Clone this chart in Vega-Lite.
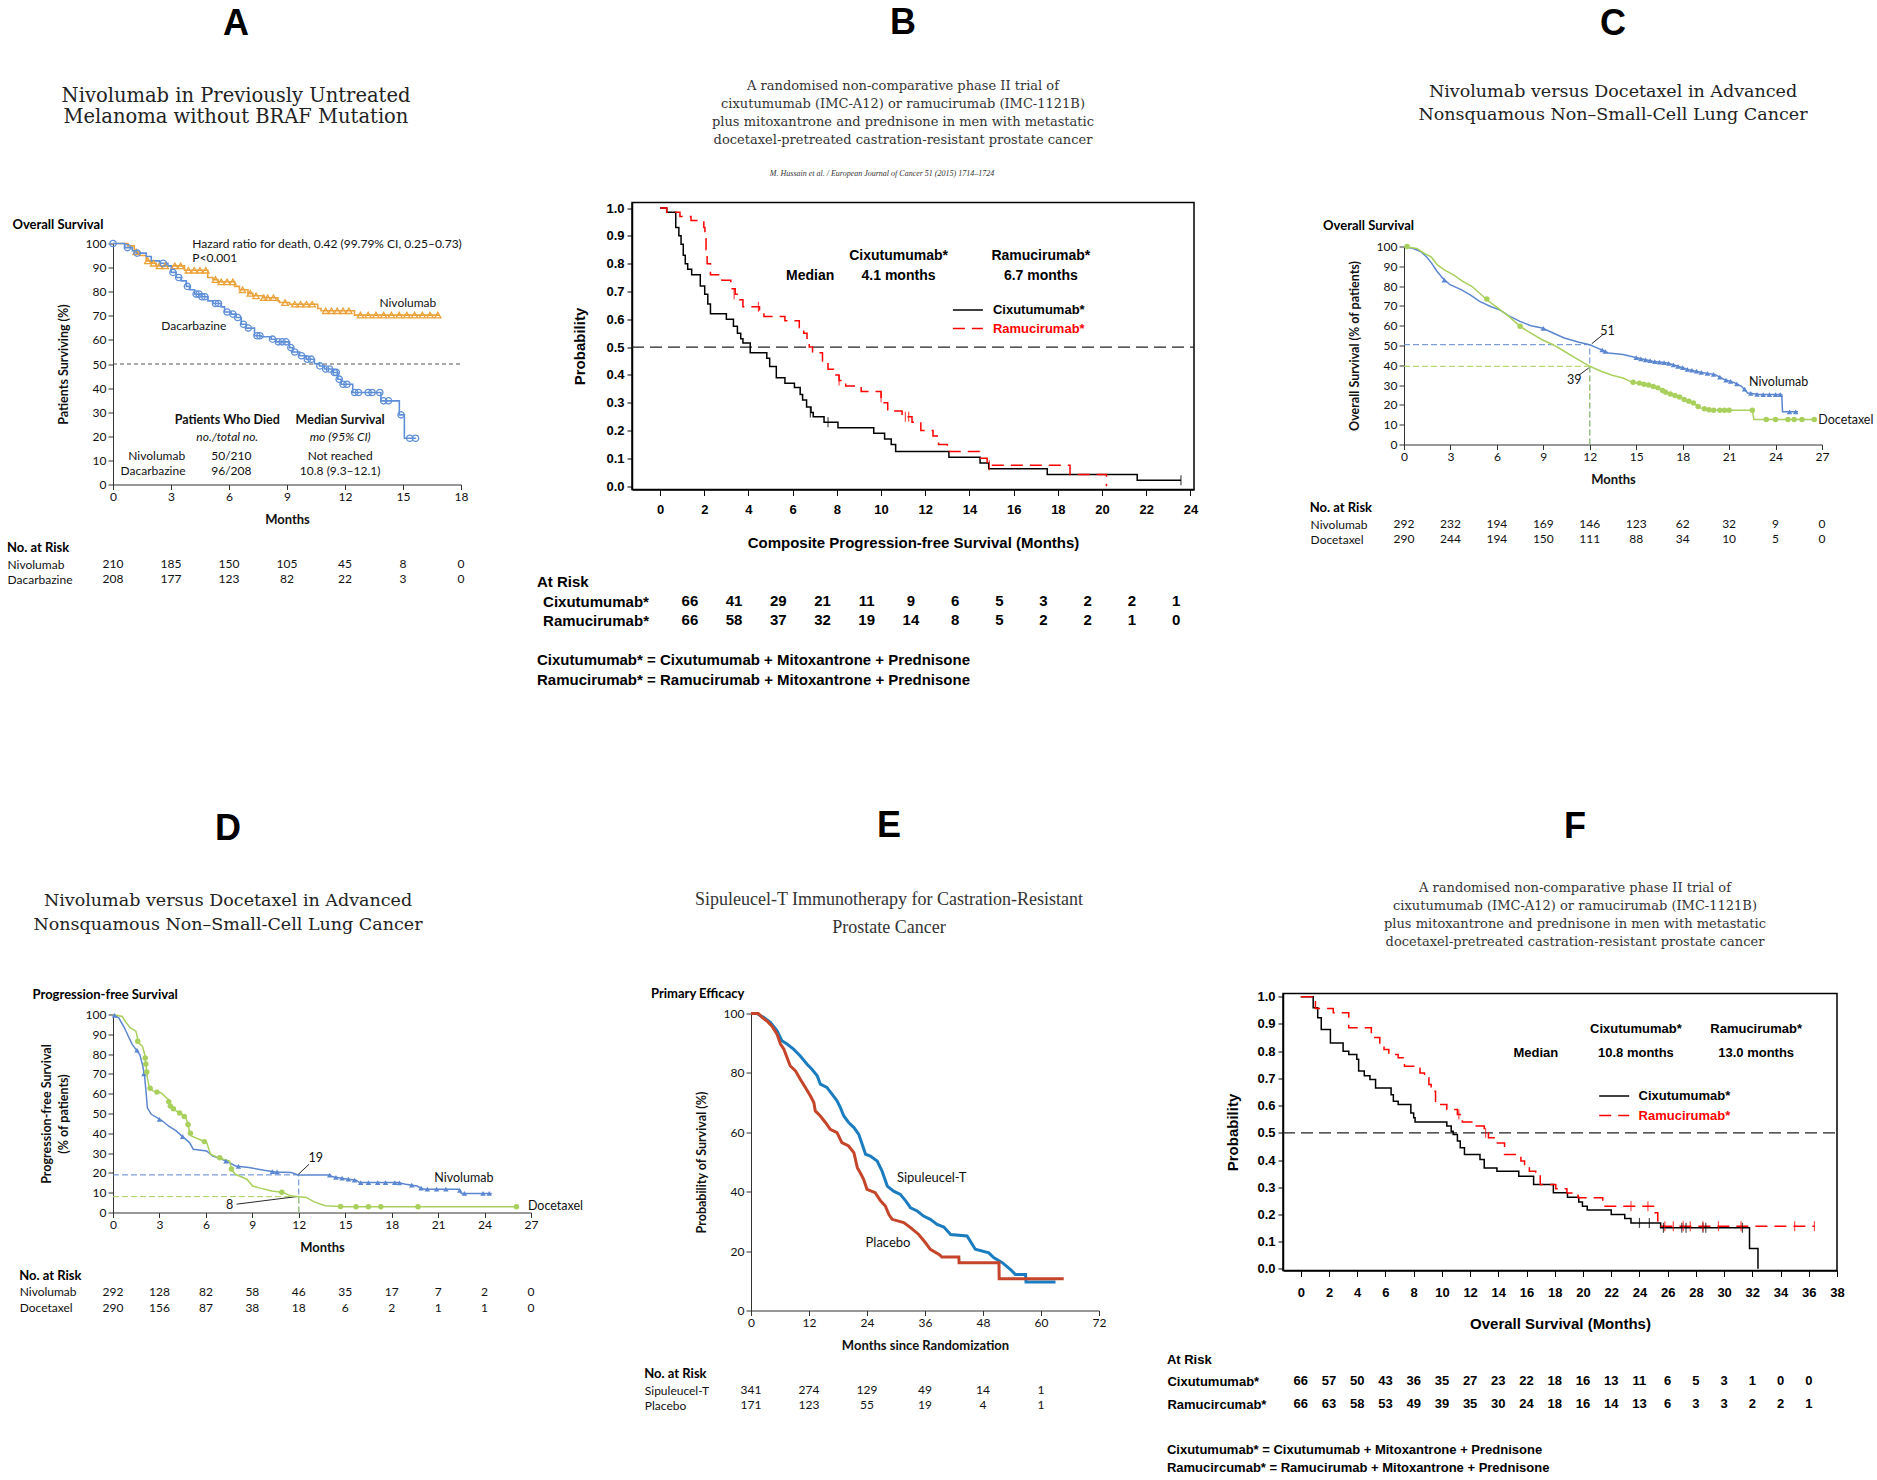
{
"$schema": "https://vega.github.io/schema/vega-lite/v6.json",
"background": "white",
"padding": {"left": 7, "top": 4.5, "right": 5, "bottom": 5},
"config": {
  "view": {"stroke": null},
  "font": "Lato",
  "axis": {"domainColor": "#333", "tickColor": "#333", "labelColor": "#111", "labelFont": "Lato", "labelFontSize": 12, "tickSize": 5, "labelPadding": 2, "titleFont": "Lato", "titleFontSize": 12.5, "titleFontWeight": "bold", "titleColor": "#111", "grid": false, "labelFlush": false, "labelOverlap": false},
  "title": {"color": "#000", "subtitleColor": "#222", "fontWeight": "bold"}
},
"datasets": {
  "kmA": [
    {"arm":"Nivolumab","month":0,"pct":100},{"arm":"Nivolumab","month":0.77,"pct":99},{"arm":"Nivolumab","month":1.1,"pct":96.5},{"arm":"Nivolumab","month":1.4,"pct":95},{"arm":"Nivolumab","month":1.72,"pct":92.8},{"arm":"Nivolumab","month":2.0,"pct":91.8},{"arm":"Nivolumab","month":2.24,"pct":90.7},{"arm":"Nivolumab","month":3.7,"pct":88.9},{"arm":"Nivolumab","month":4.9,"pct":85.9},{"arm":"Nivolumab","month":5.17,"pct":85},{"arm":"Nivolumab","month":5.43,"pct":84.1},{"arm":"Nivolumab","month":6.29,"pct":82.2},{"arm":"Nivolumab","month":6.54,"pct":80.8},{"arm":"Nivolumab","month":6.98,"pct":79.3},{"arm":"Nivolumab","month":7.23,"pct":78.3},{"arm":"Nivolumab","month":7.75,"pct":77.5},{"arm":"Nivolumab","month":8.53,"pct":76.2},{"arm":"Nivolumab","month":8.61,"pct":75.5},{"arm":"Nivolumab","month":9.13,"pct":74.8},{"arm":"Nivolumab","month":10.59,"pct":73},{"arm":"Nivolumab","month":10.76,"pct":72.1},{"arm":"Nivolumab","month":12.49,"pct":70.3},{"arm":"Nivolumab","month":16.88,"pct":70.3},
    {"arm":"Dacarbazine","month":0,"pct":100},{"arm":"Dacarbazine","month":0.6,"pct":98.3},{"arm":"Dacarbazine","month":1.0,"pct":97},{"arm":"Dacarbazine","month":1.2,"pct":96},{"arm":"Dacarbazine","month":1.72,"pct":94.6},{"arm":"Dacarbazine","month":1.98,"pct":92.8},{"arm":"Dacarbazine","month":2.41,"pct":91.8},{"arm":"Dacarbazine","month":2.84,"pct":90.7},{"arm":"Dacarbazine","month":3.01,"pct":88},{"arm":"Dacarbazine","month":3.27,"pct":85.9},{"arm":"Dacarbazine","month":3.53,"pct":84.5},{"arm":"Dacarbazine","month":3.79,"pct":82.2},{"arm":"Dacarbazine","month":3.96,"pct":80.8},{"arm":"Dacarbazine","month":4.22,"pct":79},{"arm":"Dacarbazine","month":4.56,"pct":77.9},{"arm":"Dacarbazine","month":4.91,"pct":76.2},{"arm":"Dacarbazine","month":5.17,"pct":75.1},{"arm":"Dacarbazine","month":5.6,"pct":73.7},{"arm":"Dacarbazine","month":5.77,"pct":71.6},{"arm":"Dacarbazine","month":6.11,"pct":70.7},{"arm":"Dacarbazine","month":6.37,"pct":69.3},{"arm":"Dacarbazine","month":6.63,"pct":66.5},{"arm":"Dacarbazine","month":6.89,"pct":64.9},{"arm":"Dacarbazine","month":7.32,"pct":61.7},{"arm":"Dacarbazine","month":7.66,"pct":61.3},{"arm":"Dacarbazine","month":8.18,"pct":60.3},{"arm":"Dacarbazine","month":8.44,"pct":59.2},{"arm":"Dacarbazine","month":9.13,"pct":56.8},{"arm":"Dacarbazine","month":9.3,"pct":55},{"arm":"Dacarbazine","month":9.65,"pct":53.4},{"arm":"Dacarbazine","month":9.99,"pct":52},{"arm":"Dacarbazine","month":10.42,"pct":50.1},{"arm":"Dacarbazine","month":10.68,"pct":49.2},{"arm":"Dacarbazine","month":10.94,"pct":47.9},{"arm":"Dacarbazine","month":11.37,"pct":46.5},{"arm":"Dacarbazine","month":11.63,"pct":43.7},{"arm":"Dacarbazine","month":11.8,"pct":41.6},{"arm":"Dacarbazine","month":12.4,"pct":38.2},{"arm":"Dacarbazine","month":13.86,"pct":34.7},{"arm":"Dacarbazine","month":14.81,"pct":28.9},{"arm":"Dacarbazine","month":15.07,"pct":19.2},{"arm":"Dacarbazine","month":15.67,"pct":19.2}
  ],
  "censA": [
    {"arm":"Nivolumab","month":1.2,"pct":96.5},{"arm":"Nivolumab","month":1.8,"pct":92.8},{"arm":"Nivolumab","month":2.1,"pct":91.8},{"arm":"Nivolumab","month":2.4,"pct":90.7},{"arm":"Nivolumab","month":2.7,"pct":90.7},{"arm":"Nivolumab","month":3.2,"pct":90.7},{"arm":"Nivolumab","month":3.5,"pct":90.7},{"arm":"Nivolumab","month":3.9,"pct":88.9},{"arm":"Nivolumab","month":4.2,"pct":88.9},{"arm":"Nivolumab","month":4.5,"pct":88.9},{"arm":"Nivolumab","month":4.8,"pct":88.9},{"arm":"Nivolumab","month":5.3,"pct":85},{"arm":"Nivolumab","month":5.6,"pct":84.1},{"arm":"Nivolumab","month":5.9,"pct":84.1},{"arm":"Nivolumab","month":6.2,"pct":84.1},{"arm":"Nivolumab","month":6.7,"pct":80.8},{"arm":"Nivolumab","month":7.1,"pct":79.3},{"arm":"Nivolumab","month":7.4,"pct":78.3},{"arm":"Nivolumab","month":7.8,"pct":77.5},{"arm":"Nivolumab","month":8.0,"pct":77.5},{"arm":"Nivolumab","month":8.3,"pct":77.5},{"arm":"Nivolumab","month":8.9,"pct":75.5},{"arm":"Nivolumab","month":9.4,"pct":74.8},{"arm":"Nivolumab","month":9.7,"pct":74.8},{"arm":"Nivolumab","month":10.0,"pct":74.8},{"arm":"Nivolumab","month":10.3,"pct":74.8},{"arm":"Nivolumab","month":11.0,"pct":72.1},{"arm":"Nivolumab","month":11.3,"pct":72.1},{"arm":"Nivolumab","month":11.6,"pct":72.1},{"arm":"Nivolumab","month":11.9,"pct":72.1},{"arm":"Nivolumab","month":12.2,"pct":72.1},{"arm":"Nivolumab","month":12.8,"pct":70.3},{"arm":"Nivolumab","month":13.2,"pct":70.3},{"arm":"Nivolumab","month":13.6,"pct":70.3},{"arm":"Nivolumab","month":14.0,"pct":70.3},{"arm":"Nivolumab","month":14.4,"pct":70.3},{"arm":"Nivolumab","month":14.8,"pct":70.3},{"arm":"Nivolumab","month":15.2,"pct":70.3},{"arm":"Nivolumab","month":15.6,"pct":70.3},{"arm":"Nivolumab","month":16.0,"pct":70.3},{"arm":"Nivolumab","month":16.4,"pct":70.3},{"arm":"Nivolumab","month":16.8,"pct":70.3},
    {"arm":"Dacarbazine","month":0,"pct":100},{"arm":"Dacarbazine","month":0.75,"pct":98.3},{"arm":"Dacarbazine","month":1.25,"pct":96},{"arm":"Dacarbazine","month":2.6,"pct":91.8},{"arm":"Dacarbazine","month":3.1,"pct":88},{"arm":"Dacarbazine","month":3.4,"pct":85.9},{"arm":"Dacarbazine","month":3.85,"pct":82.2},{"arm":"Dacarbazine","month":4.3,"pct":79},{"arm":"Dacarbazine","month":4.45,"pct":79},{"arm":"Dacarbazine","month":4.6,"pct":77.9},{"arm":"Dacarbazine","month":4.75,"pct":77.9},{"arm":"Dacarbazine","month":5.3,"pct":75.1},{"arm":"Dacarbazine","month":5.45,"pct":75.1},{"arm":"Dacarbazine","month":5.9,"pct":71.6},{"arm":"Dacarbazine","month":6.2,"pct":70.7},{"arm":"Dacarbazine","month":6.45,"pct":69.3},{"arm":"Dacarbazine","month":6.75,"pct":66.5},{"arm":"Dacarbazine","month":7.0,"pct":64.9},{"arm":"Dacarbazine","month":7.45,"pct":61.7},{"arm":"Dacarbazine","month":7.6,"pct":61.7},{"arm":"Dacarbazine","month":8.25,"pct":60.3},{"arm":"Dacarbazine","month":8.55,"pct":59.2},{"arm":"Dacarbazine","month":8.75,"pct":59.2},{"arm":"Dacarbazine","month":8.95,"pct":59.2},{"arm":"Dacarbazine","month":9.2,"pct":56.8},{"arm":"Dacarbazine","month":9.4,"pct":55},{"arm":"Dacarbazine","month":9.75,"pct":53.4},{"arm":"Dacarbazine","month":10.05,"pct":52},{"arm":"Dacarbazine","month":10.25,"pct":52},{"arm":"Dacarbazine","month":10.7,"pct":49.2},{"arm":"Dacarbazine","month":11.0,"pct":47.9},{"arm":"Dacarbazine","month":11.2,"pct":47.9},{"arm":"Dacarbazine","month":11.45,"pct":46.5},{"arm":"Dacarbazine","month":11.55,"pct":46.5},{"arm":"Dacarbazine","month":11.7,"pct":43.7},{"arm":"Dacarbazine","month":11.9,"pct":41.6},{"arm":"Dacarbazine","month":12.1,"pct":41.6},{"arm":"Dacarbazine","month":12.5,"pct":38.2},{"arm":"Dacarbazine","month":12.7,"pct":38.2},{"arm":"Dacarbazine","month":13.2,"pct":38.2},{"arm":"Dacarbazine","month":13.4,"pct":38.2},{"arm":"Dacarbazine","month":13.8,"pct":38.2},{"arm":"Dacarbazine","month":14.0,"pct":34.7},{"arm":"Dacarbazine","month":14.25,"pct":34.7},{"arm":"Dacarbazine","month":14.9,"pct":28.9},{"arm":"Dacarbazine","month":15.35,"pct":19.2},{"arm":"Dacarbazine","month":15.65,"pct":19.2}
  ],
  "refA": [{"month":0,"month2":18,"pct":50,"pct2":50}],
  "annA": [
    {"month":4.1,"pct":100,"text":"Hazard ratio for death, 0.42 (99.79% CI, 0.25–0.73)","role":"left"},
    {"month":4.1,"pct":93.8,"text":"P<0.001","role":"left"},
    {"month":13.78,"pct":75.5,"text":"Nivolumab","role":"left"},
    {"month":2.5,"pct":65.8,"text":"Dacarbazine","role":"left"},
    {"month":5.91,"pct":26.7,"text":"Patients Who Died","role":"head"},
    {"month":11.75,"pct":26.7,"text":"Median Survival","role":"head"},
    {"month":5.91,"pct":19.9,"text":"no./total no.","role":"sub"},
    {"month":11.75,"pct":19.9,"text":"mo (95% CI)","role":"sub"},
    {"month":2.26,"pct":11.9,"text":"Nivolumab","role":"cell"},
    {"month":6.12,"pct":11.9,"text":"50/210","role":"cell"},
    {"month":11.75,"pct":11.9,"text":"Not reached","role":"cell"},
    {"month":2.07,"pct":5.4,"text":"Dacarbazine","role":"cell"},
    {"month":6.12,"pct":5.4,"text":"96/208","role":"cell"},
    {"month":11.75,"pct":5.4,"text":"10.8 (9.3–12.1)","role":"cell"}
  ],
  "riskA": [
    {"arm":"Nivolumab","month":0,"n":210},{"arm":"Nivolumab","month":3,"n":185},{"arm":"Nivolumab","month":6,"n":150},{"arm":"Nivolumab","month":9,"n":105},{"arm":"Nivolumab","month":12,"n":45},{"arm":"Nivolumab","month":15,"n":8},{"arm":"Nivolumab","month":18,"n":0},
    {"arm":"Dacarbazine","month":0,"n":208},{"arm":"Dacarbazine","month":3,"n":177},{"arm":"Dacarbazine","month":6,"n":123},{"arm":"Dacarbazine","month":9,"n":82},{"arm":"Dacarbazine","month":12,"n":22},{"arm":"Dacarbazine","month":15,"n":3},{"arm":"Dacarbazine","month":18,"n":0}
  ],
  "kmB": [
    {"arm":"Cixutumumab*","month":0,"prob":1},{"arm":"Cixutumumab*","month":0.3,"prob":0.985},{"arm":"Cixutumumab*","month":0.71,"prob":0.93},{"arm":"Cixutumumab*","month":0.85,"prob":0.9},{"arm":"Cixutumumab*","month":0.95,"prob":0.87},{"arm":"Cixutumumab*","month":1.05,"prob":0.83},{"arm":"Cixutumumab*","month":1.14,"prob":0.8},{"arm":"Cixutumumab*","month":1.25,"prob":0.78},{"arm":"Cixutumumab*","month":1.43,"prob":0.76},{"arm":"Cixutumumab*","month":1.82,"prob":0.72},{"arm":"Cixutumumab*","month":2.02,"prob":0.69},{"arm":"Cixutumumab*","month":2.16,"prob":0.655},{"arm":"Cixutumumab*","month":2.28,"prob":0.62},{"arm":"Cixutumumab*","month":3.0,"prob":0.6},{"arm":"Cixutumumab*","month":3.32,"prob":0.575},{"arm":"Cixutumumab*","month":3.5,"prob":0.55},{"arm":"Cixutumumab*","month":3.65,"prob":0.53},{"arm":"Cixutumumab*","month":3.75,"prob":0.515},{"arm":"Cixutumumab*","month":4.08,"prob":0.48},{"arm":"Cixutumumab*","month":4.83,"prob":0.46},{"arm":"Cixutumumab*","month":4.96,"prob":0.43},{"arm":"Cixutumumab*","month":5.26,"prob":0.39},{"arm":"Cixutumumab*","month":5.65,"prob":0.37},{"arm":"Cixutumumab*","month":6.08,"prob":0.355},{"arm":"Cixutumumab*","month":6.34,"prob":0.33},{"arm":"Cixutumumab*","month":6.45,"prob":0.31},{"arm":"Cixutumumab*","month":6.63,"prob":0.285},{"arm":"Cixutumumab*","month":6.83,"prob":0.265},{"arm":"Cixutumumab*","month":6.93,"prob":0.25},{"arm":"Cixutumumab*","month":7.42,"prob":0.23},{"arm":"Cixutumumab*","month":8.05,"prob":0.21},{"arm":"Cixutumumab*","month":9.67,"prob":0.19},{"arm":"Cixutumumab*","month":10.16,"prob":0.17},{"arm":"Cixutumumab*","month":10.46,"prob":0.15},{"arm":"Cixutumumab*","month":10.66,"prob":0.125},{"arm":"Cixutumumab*","month":13.07,"prob":0.104},{"arm":"Cixutumumab*","month":14.48,"prob":0.083},{"arm":"Cixutumumab*","month":14.87,"prob":0.063},{"arm":"Cixutumumab*","month":17.52,"prob":0.042},{"arm":"Cixutumumab*","month":21.59,"prob":0.021},{"arm":"Cixutumumab*","month":23.57,"prob":0.021},
    {"arm":"Ramucirumab*","month":0,"prob":1},{"arm":"Ramucirumab*","month":0.3,"prob":0.985},{"arm":"Ramucirumab*","month":0.9,"prob":0.97},{"arm":"Ramucirumab*","month":1.4,"prob":0.955},{"arm":"Ramucirumab*","month":1.98,"prob":0.93},{"arm":"Ramucirumab*","month":2.03,"prob":0.89},{"arm":"Ramucirumab*","month":2.08,"prob":0.85},{"arm":"Ramucirumab*","month":2.13,"prob":0.8},{"arm":"Ramucirumab*","month":2.28,"prob":0.76},{"arm":"Ramucirumab*","month":2.8,"prob":0.74},{"arm":"Ramucirumab*","month":3.2,"prob":0.71},{"arm":"Ramucirumab*","month":3.4,"prob":0.69},{"arm":"Ramucirumab*","month":3.6,"prob":0.67},{"arm":"Ramucirumab*","month":3.75,"prob":0.645},{"arm":"Ramucirumab*","month":4.5,"prob":0.63},{"arm":"Ramucirumab*","month":4.7,"prob":0.61},{"arm":"Ramucirumab*","month":5.65,"prob":0.595},{"arm":"Ramucirumab*","month":6.3,"prob":0.57},{"arm":"Ramucirumab*","month":6.5,"prob":0.55},{"arm":"Ramucirumab*","month":6.65,"prob":0.52},{"arm":"Ramucirumab*","month":6.75,"prob":0.5},{"arm":"Ramucirumab*","month":6.9,"prob":0.48},{"arm":"Ramucirumab*","month":7.35,"prob":0.45},{"arm":"Ramucirumab*","month":7.6,"prob":0.42},{"arm":"Ramucirumab*","month":7.85,"prob":0.4},{"arm":"Ramucirumab*","month":8.1,"prob":0.38},{"arm":"Ramucirumab*","month":8.4,"prob":0.36},{"arm":"Ramucirumab*","month":9.1,"prob":0.34},{"arm":"Ramucirumab*","month":10.0,"prob":0.3},{"arm":"Ramucirumab*","month":10.3,"prob":0.27},{"arm":"Ramucirumab*","month":10.95,"prob":0.25},{"arm":"Ramucirumab*","month":11.4,"prob":0.23},{"arm":"Ramucirumab*","month":11.8,"prob":0.2},{"arm":"Ramucirumab*","month":12.35,"prob":0.18},{"arm":"Ramucirumab*","month":12.6,"prob":0.15},{"arm":"Ramucirumab*","month":13.0,"prob":0.125},{"arm":"Ramucirumab*","month":14.45,"prob":0.1},{"arm":"Ramucirumab*","month":14.8,"prob":0.075},{"arm":"Ramucirumab*","month":18.55,"prob":0.042},{"arm":"Ramucirumab*","month":20.2,"prob":0}
  ],
  "censB": [
    {"arm":"Cixutumumab*","month":6.8,"prob":0.265},{"arm":"Cixutumumab*","month":7.6,"prob":0.23},{"arm":"Cixutumumab*","month":23.57,"prob":0.021},
    {"arm":"Ramucirumab*","month":3.35,"prob":0.69},{"arm":"Ramucirumab*","month":4.45,"prob":0.645},{"arm":"Ramucirumab*","month":8.1,"prob":0.38},{"arm":"Ramucirumab*","month":10.0,"prob":0.32},{"arm":"Ramucirumab*","month":11.1,"prob":0.25},{"arm":"Ramucirumab*","month":11.25,"prob":0.25},{"arm":"Ramucirumab*","month":14.9,"prob":0.075}
  ],
  "refB": [{"month":-1.27,"month2":24.16,"prob":0.5,"prob2":0.5}],
  "annB": [
    {"month":10.79,"prob":0.826,"text":"Cixutumumab*"},{"month":17.23,"prob":0.826,"text":"Ramucirumab*"},
    {"month":6.79,"prob":0.757,"text":"Median"},{"month":10.79,"prob":0.757,"text":"4.1 months"},{"month":17.23,"prob":0.757,"text":"6.7 months"}
  ],
  "riskB": [
    {"arm":"Cixutumumab*","month":0,"n":66},{"arm":"Cixutumumab*","month":2,"n":41},{"arm":"Cixutumumab*","month":4,"n":29},{"arm":"Cixutumumab*","month":6,"n":21},{"arm":"Cixutumumab*","month":8,"n":11},{"arm":"Cixutumumab*","month":10,"n":9},{"arm":"Cixutumumab*","month":12,"n":6},{"arm":"Cixutumumab*","month":14,"n":5},{"arm":"Cixutumumab*","month":16,"n":3},{"arm":"Cixutumumab*","month":18,"n":2},{"arm":"Cixutumumab*","month":20,"n":2},{"arm":"Cixutumumab*","month":22,"n":1},
    {"arm":"Ramucirumab*","month":0,"n":66},{"arm":"Ramucirumab*","month":2,"n":58},{"arm":"Ramucirumab*","month":4,"n":37},{"arm":"Ramucirumab*","month":6,"n":32},{"arm":"Ramucirumab*","month":8,"n":19},{"arm":"Ramucirumab*","month":10,"n":14},{"arm":"Ramucirumab*","month":12,"n":8},{"arm":"Ramucirumab*","month":14,"n":5},{"arm":"Ramucirumab*","month":16,"n":2},{"arm":"Ramucirumab*","month":18,"n":2},{"arm":"Ramucirumab*","month":20,"n":1},{"arm":"Ramucirumab*","month":22,"n":0}
  ],
  "kmC": [
    {"arm":"Nivolumab","month":0,"pct":100},{"arm":"Nivolumab","month":0.6,"pct":99},{"arm":"Nivolumab","month":1.07,"pct":97.5},{"arm":"Nivolumab","month":1.43,"pct":95},{"arm":"Nivolumab","month":1.78,"pct":91.6},{"arm":"Nivolumab","month":2.14,"pct":87.4},{"arm":"Nivolumab","month":2.5,"pct":84},{"arm":"Nivolumab","month":2.97,"pct":80.7},{"arm":"Nivolumab","month":3.69,"pct":78.2},{"arm":"Nivolumab","month":4.28,"pct":75.6},{"arm":"Nivolumab","month":4.88,"pct":72.3},{"arm":"Nivolumab","month":5.59,"pct":69.7},{"arm":"Nivolumab","month":6.18,"pct":68},{"arm":"Nivolumab","month":6.78,"pct":65},{"arm":"Nivolumab","month":7.49,"pct":62.2},{"arm":"Nivolumab","month":8.2,"pct":60},{"arm":"Nivolumab","month":8.92,"pct":58.8},{"arm":"Nivolumab","month":9.63,"pct":56.3},{"arm":"Nivolumab","month":10.35,"pct":53.8},{"arm":"Nivolumab","month":11.3,"pct":51.6},{"arm":"Nivolumab","month":12.0,"pct":50.4},{"arm":"Nivolumab","month":12.5,"pct":48.7},{"arm":"Nivolumab","month":13.2,"pct":46.2},{"arm":"Nivolumab","month":14.15,"pct":45.4},{"arm":"Nivolumab","month":15.1,"pct":43.7},{"arm":"Nivolumab","month":16.05,"pct":42},{"arm":"Nivolumab","month":17.0,"pct":41.2},{"arm":"Nivolumab","month":17.7,"pct":39.5},{"arm":"Nivolumab","month":18.4,"pct":37.8},{"arm":"Nivolumab","month":19.15,"pct":36.5},{"arm":"Nivolumab","month":20.1,"pct":35.3},{"arm":"Nivolumab","month":20.7,"pct":32.8},{"arm":"Nivolumab","month":21.3,"pct":31.4},{"arm":"Nivolumab","month":21.8,"pct":29.4},{"arm":"Nivolumab","month":22.2,"pct":26},{"arm":"Nivolumab","month":22.95,"pct":25.2},{"arm":"Nivolumab","month":24.4,"pct":25.2},{"arm":"Nivolumab","month":24.45,"pct":16.5},{"arm":"Nivolumab","month":25.45,"pct":16.5},
    {"arm":"Docetaxel","month":0,"pct":100},{"arm":"Docetaxel","month":0.83,"pct":99},{"arm":"Docetaxel","month":1.3,"pct":96.6},{"arm":"Docetaxel","month":1.78,"pct":94.6},{"arm":"Docetaxel","month":2.14,"pct":90.8},{"arm":"Docetaxel","month":2.6,"pct":88.2},{"arm":"Docetaxel","month":3.2,"pct":85.7},{"arm":"Docetaxel","month":3.8,"pct":82.4},{"arm":"Docetaxel","month":4.4,"pct":79.8},{"arm":"Docetaxel","month":5.0,"pct":75.6},{"arm":"Docetaxel","month":5.35,"pct":73.1},{"arm":"Docetaxel","month":6.07,"pct":68.9},{"arm":"Docetaxel","month":6.78,"pct":64.7},{"arm":"Docetaxel","month":7.49,"pct":59.7},{"arm":"Docetaxel","month":8.2,"pct":56.3},{"arm":"Docetaxel","month":8.92,"pct":52.9},{"arm":"Docetaxel","month":9.63,"pct":50.4},{"arm":"Docetaxel","month":10.35,"pct":47.1},{"arm":"Docetaxel","month":11.06,"pct":43.7},{"arm":"Docetaxel","month":12.0,"pct":39.5},{"arm":"Docetaxel","month":12.73,"pct":37},{"arm":"Docetaxel","month":13.44,"pct":35},{"arm":"Docetaxel","month":14.15,"pct":33.6},{"arm":"Docetaxel","month":14.75,"pct":31.4},{"arm":"Docetaxel","month":15.58,"pct":30.3},{"arm":"Docetaxel","month":16.4,"pct":28.6},{"arm":"Docetaxel","month":17.0,"pct":26},{"arm":"Docetaxel","month":17.7,"pct":24.4},{"arm":"Docetaxel","month":18.08,"pct":22.7},{"arm":"Docetaxel","month":18.67,"pct":21},{"arm":"Docetaxel","month":19.15,"pct":18.5},{"arm":"Docetaxel","month":19.86,"pct":17.3},{"arm":"Docetaxel","month":22.5,"pct":17.3},{"arm":"Docetaxel","month":22.6,"pct":12.6},{"arm":"Docetaxel","month":26.5,"pct":12.6}
  ],
  "censC": [
    {"arm":"Nivolumab","month":2.6,"pct":83},{"arm":"Nivolumab","month":9.0,"pct":58.6},{"arm":"Nivolumab","month":12.8,"pct":47.8},{"arm":"Nivolumab","month":13.0,"pct":47},{"arm":"Nivolumab","month":15.0,"pct":43.9},{"arm":"Nivolumab","month":15.3,"pct":43.3},{"arm":"Nivolumab","month":15.6,"pct":42.8},{"arm":"Nivolumab","month":15.9,"pct":42.3},{"arm":"Nivolumab","month":16.2,"pct":41.9},{"arm":"Nivolumab","month":16.5,"pct":41.6},{"arm":"Nivolumab","month":16.8,"pct":41.3},{"arm":"Nivolumab","month":17.1,"pct":41},{"arm":"Nivolumab","month":17.4,"pct":40.2},{"arm":"Nivolumab","month":17.7,"pct":39.5},{"arm":"Nivolumab","month":18.0,"pct":38.8},{"arm":"Nivolumab","month":18.3,"pct":38},{"arm":"Nivolumab","month":18.6,"pct":37.5},{"arm":"Nivolumab","month":18.9,"pct":37},{"arm":"Nivolumab","month":19.2,"pct":36.4},{"arm":"Nivolumab","month":19.6,"pct":35.9},{"arm":"Nivolumab","month":20.0,"pct":35.4},{"arm":"Nivolumab","month":20.4,"pct":34},{"arm":"Nivolumab","month":20.8,"pct":32.5},{"arm":"Nivolumab","month":21.1,"pct":31.9},{"arm":"Nivolumab","month":21.5,"pct":30.6},{"arm":"Nivolumab","month":22.0,"pct":28},{"arm":"Nivolumab","month":22.4,"pct":25.8},{"arm":"Nivolumab","month":22.8,"pct":25.3},{"arm":"Nivolumab","month":23.2,"pct":25.2},{"arm":"Nivolumab","month":23.6,"pct":25.2},{"arm":"Nivolumab","month":24.0,"pct":25.2},{"arm":"Nivolumab","month":24.3,"pct":25.2},{"arm":"Nivolumab","month":24.9,"pct":16.5},{"arm":"Nivolumab","month":25.3,"pct":16.5},
    {"arm":"Docetaxel","month":0.2,"pct":100},{"arm":"Docetaxel","month":5.35,"pct":73.5},{"arm":"Docetaxel","month":7.5,"pct":59.7},{"arm":"Docetaxel","month":14.8,"pct":31.4},{"arm":"Docetaxel","month":15.2,"pct":31},{"arm":"Docetaxel","month":15.5,"pct":30.4},{"arm":"Docetaxel","month":15.8,"pct":30},{"arm":"Docetaxel","month":16.1,"pct":29.3},{"arm":"Docetaxel","month":16.4,"pct":28.6},{"arm":"Docetaxel","month":16.7,"pct":27.3},{"arm":"Docetaxel","month":16.9,"pct":26.4},{"arm":"Docetaxel","month":17.2,"pct":25.5},{"arm":"Docetaxel","month":17.5,"pct":24.8},{"arm":"Docetaxel","month":17.8,"pct":24},{"arm":"Docetaxel","month":18.1,"pct":22.7},{"arm":"Docetaxel","month":18.4,"pct":21.8},{"arm":"Docetaxel","month":18.7,"pct":21},{"arm":"Docetaxel","month":19.0,"pct":19.2},{"arm":"Docetaxel","month":19.4,"pct":18},{"arm":"Docetaxel","month":19.7,"pct":17.5},{"arm":"Docetaxel","month":20.0,"pct":17.3},{"arm":"Docetaxel","month":20.4,"pct":17.3},{"arm":"Docetaxel","month":20.7,"pct":17.3},{"arm":"Docetaxel","month":21.0,"pct":17.3},{"arm":"Docetaxel","month":22.5,"pct":17.3},{"arm":"Docetaxel","month":23.4,"pct":12.6},{"arm":"Docetaxel","month":24.0,"pct":12.6},{"arm":"Docetaxel","month":24.8,"pct":12.6},{"arm":"Docetaxel","month":25.2,"pct":12.6},{"arm":"Docetaxel","month":25.7,"pct":12.6},{"arm":"Docetaxel","month":26.5,"pct":12.6}
  ],
  "refC": [
    {"arm":"Nivolumab","month":0,"month2":12,"pct":50.4,"pct2":50.4},{"arm":"Docetaxel","month":0,"month2":12,"pct":39.5,"pct2":39.5},
    {"arm":"Nivolumab","month":12,"month2":12,"pct":0,"pct2":50.4},{"arm":"Docetaxel","month":12,"month2":12,"pct":0,"pct2":39.5}
  ],
  "leadC": [{"month":12.13,"pct":50.9,"month2":12.85,"pct2":55.5},{"month":11.94,"pct":38.7,"month2":11.3,"pct2":35}],
  "annC": [
    {"month":13.15,"pct":57.5,"text":"51","role":"center"},{"month":11.0,"pct":32.8,"text":"39","role":"center"},
    {"month":22.29,"pct":31.6,"text":"Nivolumab","role":"left"},{"month":26.76,"pct":12.6,"text":"Docetaxel","role":"left"}
  ],
  "riskC": [
    {"arm":"Nivolumab","month":0,"n":292},{"arm":"Nivolumab","month":3,"n":232},{"arm":"Nivolumab","month":6,"n":194},{"arm":"Nivolumab","month":9,"n":169},{"arm":"Nivolumab","month":12,"n":146},{"arm":"Nivolumab","month":15,"n":123},{"arm":"Nivolumab","month":18,"n":62},{"arm":"Nivolumab","month":21,"n":32},{"arm":"Nivolumab","month":24,"n":9},{"arm":"Nivolumab","month":27,"n":0},
    {"arm":"Docetaxel","month":0,"n":290},{"arm":"Docetaxel","month":3,"n":244},{"arm":"Docetaxel","month":6,"n":194},{"arm":"Docetaxel","month":9,"n":150},{"arm":"Docetaxel","month":12,"n":111},{"arm":"Docetaxel","month":15,"n":88},{"arm":"Docetaxel","month":18,"n":34},{"arm":"Docetaxel","month":21,"n":10},{"arm":"Docetaxel","month":24,"n":5},{"arm":"Docetaxel","month":27,"n":0}
  ],
  "kmD": [
    {"arm":"Nivolumab","month":0,"pct":100},{"arm":"Nivolumab","month":0.37,"pct":98.3},{"arm":"Nivolumab","month":0.74,"pct":93.3},{"arm":"Nivolumab","month":0.99,"pct":89},{"arm":"Nivolumab","month":1.24,"pct":84.9},{"arm":"Nivolumab","month":1.48,"pct":82.4},{"arm":"Nivolumab","month":1.73,"pct":79.8},{"arm":"Nivolumab","month":1.9,"pct":74.8},{"arm":"Nivolumab","month":2.03,"pct":69.7},{"arm":"Nivolumab","month":2.15,"pct":59.7},{"arm":"Nivolumab","month":2.22,"pct":52.9},{"arm":"Nivolumab","month":2.47,"pct":49.6},{"arm":"Nivolumab","month":2.84,"pct":47.9},{"arm":"Nivolumab","month":3.2,"pct":46.2},{"arm":"Nivolumab","month":3.58,"pct":43.7},{"arm":"Nivolumab","month":4.08,"pct":41.2},{"arm":"Nivolumab","month":4.57,"pct":37.8},{"arm":"Nivolumab","month":4.94,"pct":35.3},{"arm":"Nivolumab","month":5.19,"pct":31.9},{"arm":"Nivolumab","month":6.05,"pct":31.1},{"arm":"Nivolumab","month":6.42,"pct":28.6},{"arm":"Nivolumab","month":7.04,"pct":26.9},{"arm":"Nivolumab","month":7.53,"pct":25.2},{"arm":"Nivolumab","month":7.9,"pct":23.5},{"arm":"Nivolumab","month":8.77,"pct":22.7},{"arm":"Nivolumab","month":9.76,"pct":21.3},{"arm":"Nivolumab","month":10.5,"pct":20.5},{"arm":"Nivolumab","month":11.5,"pct":20.2},{"arm":"Nivolumab","month":11.98,"pct":19},{"arm":"Nivolumab","month":13.96,"pct":19},{"arm":"Nivolumab","month":14.2,"pct":18},{"arm":"Nivolumab","month":14.95,"pct":17.1},{"arm":"Nivolumab","month":15.7,"pct":16.3},{"arm":"Nivolumab","month":15.93,"pct":15.1},{"arm":"Nivolumab","month":18.4,"pct":15.1},{"arm":"Nivolumab","month":18.9,"pct":14.3},{"arm":"Nivolumab","month":19.64,"pct":13.4},{"arm":"Nivolumab","month":19.9,"pct":12.3},{"arm":"Nivolumab","month":20.13,"pct":11.8},{"arm":"Nivolumab","month":22.36,"pct":11.8},{"arm":"Nivolumab","month":22.5,"pct":9.6},{"arm":"Nivolumab","month":24.46,"pct":9.6},
    {"arm":"Docetaxel","month":0,"pct":100},{"arm":"Docetaxel","month":0.6,"pct":99},{"arm":"Docetaxel","month":0.86,"pct":95.8},{"arm":"Docetaxel","month":1.1,"pct":93.3},{"arm":"Docetaxel","month":1.48,"pct":91.6},{"arm":"Docetaxel","month":1.65,"pct":85.7},{"arm":"Docetaxel","month":1.9,"pct":84},{"arm":"Docetaxel","month":2.05,"pct":79.8},{"arm":"Docetaxel","month":2.1,"pct":76.5},{"arm":"Docetaxel","month":2.15,"pct":73.1},{"arm":"Docetaxel","month":2.22,"pct":68},{"arm":"Docetaxel","month":2.35,"pct":63},{"arm":"Docetaxel","month":2.6,"pct":61.3},{"arm":"Docetaxel","month":3.09,"pct":60.5},{"arm":"Docetaxel","month":3.33,"pct":58.8},{"arm":"Docetaxel","month":3.58,"pct":57.1},{"arm":"Docetaxel","month":3.7,"pct":53.8},{"arm":"Docetaxel","month":4.08,"pct":51.3},{"arm":"Docetaxel","month":4.45,"pct":49.6},{"arm":"Docetaxel","month":4.69,"pct":47.9},{"arm":"Docetaxel","month":4.82,"pct":45.4},{"arm":"Docetaxel","month":4.94,"pct":41.2},{"arm":"Docetaxel","month":5.06,"pct":38.7},{"arm":"Docetaxel","month":5.56,"pct":37},{"arm":"Docetaxel","month":6.05,"pct":35.3},{"arm":"Docetaxel","month":6.3,"pct":29.4},{"arm":"Docetaxel","month":6.79,"pct":27.7},{"arm":"Docetaxel","month":7.53,"pct":26},{"arm":"Docetaxel","month":7.66,"pct":21.8},{"arm":"Docetaxel","month":7.9,"pct":19.3},{"arm":"Docetaxel","month":8.65,"pct":16.8},{"arm":"Docetaxel","month":9.02,"pct":13.4},{"arm":"Docetaxel","month":9.51,"pct":12.3},{"arm":"Docetaxel","month":10.25,"pct":10.9},{"arm":"Docetaxel","month":11.0,"pct":10.1},{"arm":"Docetaxel","month":11.49,"pct":8.4},{"arm":"Docetaxel","month":11.98,"pct":8},{"arm":"Docetaxel","month":12.48,"pct":7.6},{"arm":"Docetaxel","month":12.97,"pct":5.5},{"arm":"Docetaxel","month":13.7,"pct":3.4},{"arm":"Docetaxel","month":14.95,"pct":2.9},{"arm":"Docetaxel","month":26.06,"pct":2.9}
  ],
  "censD": [
    {"arm":"Nivolumab","month":0.1,"pct":99.5},{"arm":"Nivolumab","month":1.55,"pct":82},{"arm":"Nivolumab","month":2.0,"pct":70},{"arm":"Nivolumab","month":3.0,"pct":47},{"arm":"Nivolumab","month":4.5,"pct":38.3},{"arm":"Nivolumab","month":7.3,"pct":26},{"arm":"Nivolumab","month":8.1,"pct":23.3},{"arm":"Nivolumab","month":10.3,"pct":20.7},{"arm":"Nivolumab","month":10.6,"pct":20.5},{"arm":"Nivolumab","month":14.0,"pct":18.9},{"arm":"Nivolumab","month":14.4,"pct":17.8},{"arm":"Nivolumab","month":14.8,"pct":17.3},{"arm":"Nivolumab","month":15.2,"pct":16.8},{"arm":"Nivolumab","month":15.6,"pct":16.4},{"arm":"Nivolumab","month":16.0,"pct":15.1},{"arm":"Nivolumab","month":16.5,"pct":15.1},{"arm":"Nivolumab","month":17.1,"pct":15.1},{"arm":"Nivolumab","month":17.6,"pct":15.1},{"arm":"Nivolumab","month":18.2,"pct":15.1},{"arm":"Nivolumab","month":18.5,"pct":15},{"arm":"Nivolumab","month":19.3,"pct":13.8},{"arm":"Nivolumab","month":19.9,"pct":12.3},{"arm":"Nivolumab","month":20.3,"pct":11.8},{"arm":"Nivolumab","month":20.9,"pct":11.8},{"arm":"Nivolumab","month":21.5,"pct":11.8},{"arm":"Nivolumab","month":22.4,"pct":11.2},{"arm":"Nivolumab","month":22.7,"pct":9.6},{"arm":"Nivolumab","month":23.9,"pct":9.6},{"arm":"Nivolumab","month":24.3,"pct":9.6},
    {"arm":"Docetaxel","month":1.6,"pct":86.5},{"arm":"Docetaxel","month":2.08,"pct":78},{"arm":"Docetaxel","month":2.12,"pct":75},{"arm":"Docetaxel","month":2.18,"pct":71},{"arm":"Docetaxel","month":2.4,"pct":62.8},{"arm":"Docetaxel","month":2.84,"pct":60.8},{"arm":"Docetaxel","month":3.6,"pct":56},{"arm":"Docetaxel","month":3.7,"pct":53.8},{"arm":"Docetaxel","month":3.9,"pct":52.4},{"arm":"Docetaxel","month":4.3,"pct":50.3},{"arm":"Docetaxel","month":4.6,"pct":48.5},{"arm":"Docetaxel","month":4.85,"pct":44.5},{"arm":"Docetaxel","month":5.0,"pct":40},{"arm":"Docetaxel","month":5.9,"pct":35.8},{"arm":"Docetaxel","month":6.9,"pct":27.6},{"arm":"Docetaxel","month":7.65,"pct":22},{"arm":"Docetaxel","month":10.9,"pct":10.2},{"arm":"Docetaxel","month":14.7,"pct":3},{"arm":"Docetaxel","month":15.7,"pct":2.9},{"arm":"Docetaxel","month":16.5,"pct":2.9},{"arm":"Docetaxel","month":17.3,"pct":2.9},{"arm":"Docetaxel","month":19.7,"pct":2.9},{"arm":"Docetaxel","month":26.06,"pct":2.9}
  ],
  "refD": [
    {"arm":"Nivolumab","month":0,"month2":12,"pct":19,"pct2":19},{"arm":"Docetaxel","month":0,"month2":12,"pct":8,"pct2":8},
    {"arm":"Nivolumab","month":12,"month2":12,"pct":0,"pct2":19},{"arm":"Docetaxel","month":12,"month2":12,"pct":0,"pct2":8}
  ],
  "leadD": [{"month":11.93,"pct":19,"month2":12.67,"pct2":24.4},{"month":7.98,"pct":4.2,"month2":11.93,"pct2":8.1}],
  "annD": [
    {"month":13.1,"pct":27.7,"text":"19","role":"center"},{"month":7.53,"pct":3.7,"text":"8","role":"center"},
    {"month":20.75,"pct":17.6,"text":"Nivolumab","role":"left"},{"month":26.8,"pct":3.4,"text":"Docetaxel","role":"left"}
  ],
  "riskD": [
    {"arm":"Nivolumab","month":0,"n":292},{"arm":"Nivolumab","month":3,"n":128},{"arm":"Nivolumab","month":6,"n":82},{"arm":"Nivolumab","month":9,"n":58},{"arm":"Nivolumab","month":12,"n":46},{"arm":"Nivolumab","month":15,"n":35},{"arm":"Nivolumab","month":18,"n":17},{"arm":"Nivolumab","month":21,"n":7},{"arm":"Nivolumab","month":24,"n":2},{"arm":"Nivolumab","month":27,"n":0},
    {"arm":"Docetaxel","month":0,"n":290},{"arm":"Docetaxel","month":3,"n":156},{"arm":"Docetaxel","month":6,"n":87},{"arm":"Docetaxel","month":9,"n":38},{"arm":"Docetaxel","month":12,"n":18},{"arm":"Docetaxel","month":15,"n":6},{"arm":"Docetaxel","month":18,"n":2},{"arm":"Docetaxel","month":21,"n":1},{"arm":"Docetaxel","month":24,"n":1},{"arm":"Docetaxel","month":27,"n":0}
  ],
  "kmE": [
    {"arm":"Sipuleucel-T","month":0,"pct":100},{"arm":"Sipuleucel-T","month":1.2,"pct":100},{"arm":"Sipuleucel-T","month":2.6,"pct":98.7},{"arm":"Sipuleucel-T","month":4.0,"pct":97},{"arm":"Sipuleucel-T","month":5.4,"pct":94.2},{"arm":"Sipuleucel-T","month":6.4,"pct":90.8},{"arm":"Sipuleucel-T","month":7.45,"pct":89.7},{"arm":"Sipuleucel-T","month":8.8,"pct":88},{"arm":"Sipuleucel-T","month":10.2,"pct":85.7},{"arm":"Sipuleucel-T","month":11.6,"pct":82.9},{"arm":"Sipuleucel-T","month":12.6,"pct":81.2},{"arm":"Sipuleucel-T","month":13.7,"pct":79},{"arm":"Sipuleucel-T","month":14.35,"pct":76.2},{"arm":"Sipuleucel-T","month":15.7,"pct":75.1},{"arm":"Sipuleucel-T","month":16.8,"pct":72.8},{"arm":"Sipuleucel-T","month":17.8,"pct":70.6},{"arm":"Sipuleucel-T","month":18.5,"pct":68.3},{"arm":"Sipuleucel-T","month":19.2,"pct":65.5},{"arm":"Sipuleucel-T","month":20.2,"pct":63.3},{"arm":"Sipuleucel-T","month":21.3,"pct":61.6},{"arm":"Sipuleucel-T","month":22.3,"pct":59.3},{"arm":"Sipuleucel-T","month":23.0,"pct":56},{"arm":"Sipuleucel-T","month":23.7,"pct":52.6},{"arm":"Sipuleucel-T","month":24.7,"pct":52},{"arm":"Sipuleucel-T","month":26.1,"pct":50.3},{"arm":"Sipuleucel-T","month":27.1,"pct":47},{"arm":"Sipuleucel-T","month":28.2,"pct":41.9},{"arm":"Sipuleucel-T","month":29.5,"pct":40.2},{"arm":"Sipuleucel-T","month":30.9,"pct":39.1},{"arm":"Sipuleucel-T","month":32.0,"pct":36.9},{"arm":"Sipuleucel-T","month":33.0,"pct":34.6},{"arm":"Sipuleucel-T","month":34.4,"pct":33.5},{"arm":"Sipuleucel-T","month":35.7,"pct":31.8},{"arm":"Sipuleucel-T","month":37.1,"pct":30.7},{"arm":"Sipuleucel-T","month":38.5,"pct":29},{"arm":"Sipuleucel-T","month":39.9,"pct":28.1},{"arm":"Sipuleucel-T","month":41.3,"pct":25.6},{"arm":"Sipuleucel-T","month":44.7,"pct":25.1},{"arm":"Sipuleucel-T","month":45.8,"pct":22.2},{"arm":"Sipuleucel-T","month":46.4,"pct":20.6},{"arm":"Sipuleucel-T","month":49.2,"pct":19.4},{"arm":"Sipuleucel-T","month":50.2,"pct":17.8},{"arm":"Sipuleucel-T","month":52.0,"pct":16.1},{"arm":"Sipuleucel-T","month":53.7,"pct":13.8},{"arm":"Sipuleucel-T","month":54.7,"pct":12.1},{"arm":"Sipuleucel-T","month":56.8,"pct":12.1},{"arm":"Sipuleucel-T","month":56.9,"pct":9.6},{"arm":"Sipuleucel-T","month":63.0,"pct":9.6},
    {"arm":"Placebo","month":0,"pct":100},{"arm":"Placebo","month":1.5,"pct":100},{"arm":"Placebo","month":2.3,"pct":98.7},{"arm":"Placebo","month":3.3,"pct":97.5},{"arm":"Placebo","month":4.3,"pct":95.8},{"arm":"Placebo","month":5.4,"pct":93},{"arm":"Placebo","month":6.1,"pct":89.7},{"arm":"Placebo","month":6.8,"pct":88},{"arm":"Placebo","month":7.45,"pct":85.2},{"arm":"Placebo","month":8.1,"pct":82.4},{"arm":"Placebo","month":9.2,"pct":80.7},{"arm":"Placebo","month":10.2,"pct":77.9},{"arm":"Placebo","month":11.25,"pct":75.1},{"arm":"Placebo","month":12.3,"pct":72.2},{"arm":"Placebo","month":13.0,"pct":70},{"arm":"Placebo","month":13.3,"pct":67.2},{"arm":"Placebo","month":14.35,"pct":65.5},{"arm":"Placebo","month":15.4,"pct":63.3},{"arm":"Placebo","month":16.4,"pct":61},{"arm":"Placebo","month":17.8,"pct":59.9},{"arm":"Placebo","month":18.8,"pct":56.5},{"arm":"Placebo","month":20.2,"pct":55.4},{"arm":"Placebo","month":21.3,"pct":53.1},{"arm":"Placebo","month":22.0,"pct":48.1},{"arm":"Placebo","month":22.6,"pct":46.4},{"arm":"Placebo","month":23.3,"pct":44.2},{"arm":"Placebo","month":24.0,"pct":40.8},{"arm":"Placebo","month":25.7,"pct":39.7},{"arm":"Placebo","month":26.8,"pct":36.9},{"arm":"Placebo","month":27.8,"pct":35.2},{"arm":"Placebo","month":28.5,"pct":32.4},{"arm":"Placebo","month":29.2,"pct":30.7},{"arm":"Placebo","month":31.6,"pct":29.6},{"arm":"Placebo","month":33.0,"pct":27.9},{"arm":"Placebo","month":34.7,"pct":25.6},{"arm":"Placebo","month":36.1,"pct":22.8},{"arm":"Placebo","month":37.1,"pct":20.6},{"arm":"Placebo","month":38.9,"pct":18.9},{"arm":"Placebo","month":39.5,"pct":18},{"arm":"Placebo","month":43.0,"pct":18},{"arm":"Placebo","month":43.05,"pct":16.1},{"arm":"Placebo","month":51.3,"pct":16.1},{"arm":"Placebo","month":51.35,"pct":10.7},{"arm":"Placebo","month":64.7,"pct":10.7}
  ],
  "annE": [
    {"month":30.2,"pct":44.5,"text":"Sipuleucel-T"},{"month":23.7,"pct":22.8,"text":"Placebo"}
  ],
  "riskE": [
    {"arm":"Sipuleucel-T","month":0,"n":341},{"arm":"Sipuleucel-T","month":12,"n":274},{"arm":"Sipuleucel-T","month":24,"n":129},{"arm":"Sipuleucel-T","month":36,"n":49},{"arm":"Sipuleucel-T","month":48,"n":14},{"arm":"Sipuleucel-T","month":60,"n":1},
    {"arm":"Placebo","month":0,"n":171},{"arm":"Placebo","month":12,"n":123},{"arm":"Placebo","month":24,"n":55},{"arm":"Placebo","month":36,"n":19},{"arm":"Placebo","month":48,"n":4},{"arm":"Placebo","month":60,"n":1}
  ],
  "kmF": [
    {"arm":"Cixutumumab*","month":0,"prob":1},{"arm":"Cixutumumab*","month":0.88,"prob":0.96},{"arm":"Cixutumumab*","month":1.2,"prob":0.923},{"arm":"Cixutumumab*","month":1.45,"prob":0.88},{"arm":"Cixutumumab*","month":2.1,"prob":0.83},{"arm":"Cixutumumab*","month":3.0,"prob":0.8},{"arm":"Cixutumumab*","month":3.4,"prob":0.788},{"arm":"Cixutumumab*","month":3.97,"prob":0.77},{"arm":"Cixutumumab*","month":4.1,"prob":0.727},{"arm":"Cixutumumab*","month":4.5,"prob":0.71},{"arm":"Cixutumumab*","month":4.9,"prob":0.696},{"arm":"Cixutumumab*","month":5.3,"prob":0.665},{"arm":"Cixutumumab*","month":6.4,"prob":0.64},{"arm":"Cixutumumab*","month":6.56,"prob":0.616},{"arm":"Cixutumumab*","month":6.9,"prob":0.604},{"arm":"Cixutumumab*","month":7.8,"prob":0.573},{"arm":"Cixutumumab*","month":8.0,"prob":0.555},{"arm":"Cixutumumab*","month":8.1,"prob":0.54},{"arm":"Cixutumumab*","month":10.35,"prob":0.525},{"arm":"Cixutumumab*","month":10.66,"prob":0.506},{"arm":"Cixutumumab*","month":10.8,"prob":0.494},{"arm":"Cixutumumab*","month":11.1,"prob":0.47},{"arm":"Cixutumumab*","month":11.3,"prob":0.445},{"arm":"Cixutumumab*","month":11.6,"prob":0.42},{"arm":"Cixutumumab*","month":12.7,"prob":0.402},{"arm":"Cixutumumab*","month":13.0,"prob":0.371},{"arm":"Cixutumumab*","month":13.9,"prob":0.359},{"arm":"Cixutumumab*","month":15.45,"prob":0.34},{"arm":"Cixutumumab*","month":16.5,"prob":0.31},{"arm":"Cixutumumab*","month":17.9,"prob":0.28},{"arm":"Cixutumumab*","month":18.9,"prob":0.263},{"arm":"Cixutumumab*","month":19.7,"prob":0.246},{"arm":"Cixutumumab*","month":19.96,"prob":0.23},{"arm":"Cixutumumab*","month":20.3,"prob":0.216},{"arm":"Cixutumumab*","month":22.0,"prob":0.2},{"arm":"Cixutumumab*","month":22.96,"prob":0.185},{"arm":"Cixutumumab*","month":23.4,"prob":0.169},{"arm":"Cixutumumab*","month":25.5,"prob":0.151},{"arm":"Cixutumumab*","month":31.8,"prob":0.075},{"arm":"Cixutumumab*","month":32.4,"prob":0},
    {"arm":"Ramucirumab*","month":0,"prob":1},{"arm":"Ramucirumab*","month":1.04,"prob":0.957},{"arm":"Ramucirumab*","month":2.3,"prob":0.941},{"arm":"Ramucirumab*","month":3.4,"prob":0.886},{"arm":"Ramucirumab*","month":5.0,"prob":0.85},{"arm":"Ramucirumab*","month":5.6,"prob":0.825},{"arm":"Ramucirumab*","month":5.9,"prob":0.806},{"arm":"Ramucirumab*","month":6.24,"prob":0.788},{"arm":"Ramucirumab*","month":6.9,"prob":0.776},{"arm":"Ramucirumab*","month":7.35,"prob":0.745},{"arm":"Ramucirumab*","month":8.45,"prob":0.72},{"arm":"Ramucirumab*","month":8.77,"prob":0.702},{"arm":"Ramucirumab*","month":9.08,"prob":0.678},{"arm":"Ramucirumab*","month":9.24,"prob":0.653},{"arm":"Ramucirumab*","month":9.55,"prob":0.616},{"arm":"Ramucirumab*","month":9.7,"prob":0.604},{"arm":"Ramucirumab*","month":10.35,"prob":0.586},{"arm":"Ramucirumab*","month":11.1,"prob":0.567},{"arm":"Ramucirumab*","month":11.45,"prob":0.54},{"arm":"Ramucirumab*","month":12.2,"prob":0.525},{"arm":"Ramucirumab*","month":13.0,"prob":0.5},{"arm":"Ramucirumab*","month":13.3,"prob":0.482},{"arm":"Ramucirumab*","month":13.8,"prob":0.463},{"arm":"Ramucirumab*","month":14.44,"prob":0.42},{"arm":"Ramucirumab*","month":15.6,"prob":0.396},{"arm":"Ramucirumab*","month":15.86,"prob":0.384},{"arm":"Ramucirumab*","month":16.2,"prob":0.359},{"arm":"Ramucirumab*","month":16.65,"prob":0.341},{"arm":"Ramucirumab*","month":16.97,"prob":0.31},{"arm":"Ramucirumab*","month":18.07,"prob":0.294},{"arm":"Ramucirumab*","month":18.86,"prob":0.279},{"arm":"Ramucirumab*","month":19.65,"prob":0.261},{"arm":"Ramucirumab*","month":21.4,"prob":0.23},{"arm":"Ramucirumab*","month":25.1,"prob":0.206},{"arm":"Ramucirumab*","month":25.3,"prob":0.157},{"arm":"Ramucirumab*","month":36.4,"prob":0.157}
  ],
  "censF": [
    {"arm":"Cixutumumab*","month":24.0,"prob":0.169},{"arm":"Cixutumumab*","month":24.7,"prob":0.169},{"arm":"Cixutumumab*","month":25.7,"prob":0.151},{"arm":"Cixutumumab*","month":27.0,"prob":0.151},{"arm":"Cixutumumab*","month":27.3,"prob":0.151},{"arm":"Cixutumumab*","month":28.5,"prob":0.151},{"arm":"Cixutumumab*","month":28.7,"prob":0.151},{"arm":"Cixutumumab*","month":31.3,"prob":0.151},
    {"arm":"Ramucirumab*","month":11.2,"prob":0.567},{"arm":"Ramucirumab*","month":13.1,"prob":0.5},{"arm":"Ramucirumab*","month":23.4,"prob":0.23},{"arm":"Ramucirumab*","month":24.6,"prob":0.23},{"arm":"Ramucirumab*","month":25.8,"prob":0.157},{"arm":"Ramucirumab*","month":26.4,"prob":0.157},{"arm":"Ramucirumab*","month":27.1,"prob":0.157},{"arm":"Ramucirumab*","month":27.6,"prob":0.157},{"arm":"Ramucirumab*","month":28.5,"prob":0.157},{"arm":"Ramucirumab*","month":29.6,"prob":0.157},{"arm":"Ramucirumab*","month":31.2,"prob":0.157},{"arm":"Ramucirumab*","month":35.0,"prob":0.157},{"arm":"Ramucirumab*","month":36.4,"prob":0.157}
  ],
  "refF": [{"month":-1.26,"month2":38,"prob":0.5,"prob2":0.5}],
  "annF": [
    {"month":23.75,"prob":0.88,"text":"Cixutumumab*"},{"month":32.27,"prob":0.88,"text":"Ramucirumab*"},
    {"month":16.66,"prob":0.794,"text":"Median"},{"month":23.75,"prob":0.794,"text":"10.8 months"},{"month":32.27,"prob":0.794,"text":"13.0 months"}
  ],
  "riskF": [
    {"arm":"Cixutumumab*","month":0,"n":66},{"arm":"Cixutumumab*","month":2,"n":57},{"arm":"Cixutumumab*","month":4,"n":50},{"arm":"Cixutumumab*","month":6,"n":43},{"arm":"Cixutumumab*","month":8,"n":36},{"arm":"Cixutumumab*","month":10,"n":35},{"arm":"Cixutumumab*","month":12,"n":27},{"arm":"Cixutumumab*","month":14,"n":23},{"arm":"Cixutumumab*","month":16,"n":22},{"arm":"Cixutumumab*","month":18,"n":18},{"arm":"Cixutumumab*","month":20,"n":16},{"arm":"Cixutumumab*","month":22,"n":13},{"arm":"Cixutumumab*","month":24,"n":11},{"arm":"Cixutumumab*","month":26,"n":6},{"arm":"Cixutumumab*","month":28,"n":5},{"arm":"Cixutumumab*","month":30,"n":3},{"arm":"Cixutumumab*","month":32,"n":1},{"arm":"Cixutumumab*","month":34,"n":0},{"arm":"Cixutumumab*","month":36,"n":0},
    {"arm":"Ramucircumab*","month":0,"n":66},{"arm":"Ramucircumab*","month":2,"n":63},{"arm":"Ramucircumab*","month":4,"n":58},{"arm":"Ramucircumab*","month":6,"n":53},{"arm":"Ramucircumab*","month":8,"n":49},{"arm":"Ramucircumab*","month":10,"n":39},{"arm":"Ramucircumab*","month":12,"n":35},{"arm":"Ramucircumab*","month":14,"n":30},{"arm":"Ramucircumab*","month":16,"n":24},{"arm":"Ramucircumab*","month":18,"n":18},{"arm":"Ramucircumab*","month":20,"n":16},{"arm":"Ramucircumab*","month":22,"n":14},{"arm":"Ramucircumab*","month":24,"n":13},{"arm":"Ramucircumab*","month":26,"n":6},{"arm":"Ramucircumab*","month":28,"n":3},{"arm":"Ramucircumab*","month":30,"n":3},{"arm":"Ramucircumab*","month":32,"n":2},{"arm":"Ramucircumab*","month":34,"n":2},{"arm":"Ramucircumab*","month":36,"n":1}
  ]
},
"spacing": 119,
"resolve": {"scale": {"color": "independent", "shape": "independent", "strokeDash": "independent"}, "legend": {"color": "independent", "shape": "independent", "strokeDash": "independent"}},
"vconcat": [
 {"spacing": 0,
  "resolve": {"scale": {"color": "independent", "shape": "independent", "strokeDash": "independent"}, "legend": {"color": "independent", "shape": "independent", "strokeDash": "independent"}},
  "hconcat": [
  {"spacing": 0, "bounds": "flush", "vconcat": [
    {"width": 424, "height": 94, "data": {"values": [{}]}, "mark": {"type": "text", "text": ""},
     "title": {"text": "A", "subtitle": ["Nivolumab in Previously Untreated", "Melanoma without BRAF Mutation"], "anchor": "start", "align": "center", "frame": "group", "dx": 123, "offset": 21.6, "font": "Liberation Sans", "fontSize": 36, "fontWeight": "bold", "subtitleFont": "DejaVu Serif", "subtitleFontSize": 19.5, "subtitleLineHeight": 21.5, "subtitlePadding": 43.7}},
    {"width": 348, "height": 241,
     "title": {"text": "Overall Survival", "anchor": "start", "frame": "group", "dx": -100.6, "offset": 5.6, "font": "Lato", "fontSize": 13, "fontWeight": "bold"},
     "encoding": {
       "x": {"field": "month", "type": "quantitative", "scale": {"domain": [0, 18], "nice": false, "zero": false}, "axis": {"values": [0,3,6,9,12,15,18], "title": "Months", "titleFontSize": 13, "titlePadding": 11}},
       "y": {"field": "pct", "type": "quantitative", "scale": {"domain": [0, 100], "nice": false}, "axis": {"values": [0,10,20,30,40,50,60,70,80,90,100], "title": "Patients Surviving (%)", "titlePadding": 15}}
     },
     "layer": [
       {"data": {"name": "refA"}, "mark": {"type": "rule", "strokeDash": [4, 3], "color": "#555", "strokeWidth": 1}, "encoding": {"x2": {"field": "month2"}, "y2": {"field": "pct2"}}},
       {"data": {"name": "kmA"}, "mark": {"type": "line", "interpolate": "step-after", "strokeWidth": 1.6},
        "encoding": {"color": {"field": "arm", "type": "nominal", "scale": {"domain": ["Nivolumab", "Dacarbazine"], "range": ["#EBA23A", "#5E8FD8"]}, "legend": null}}},
       {"data": {"name": "censA"}, "mark": {"type": "point", "filled": false, "size": 40, "strokeWidth": 1.3, "opacity": 1},
        "encoding": {"color": {"field": "arm", "type": "nominal", "legend": null}, "shape": {"field": "arm", "type": "nominal", "scale": {"domain": ["Nivolumab", "Dacarbazine"], "range": ["triangle-up", "circle"]}, "legend": null}}},
       {"data": {"name": "annA"}, "transform": [{"filter": "datum.role == 'left'"}], "mark": {"type": "text", "align": "left", "font": "Lato", "fontSize": 12, "color": "#111"}, "encoding": {"text": {"field": "text"}}},
       {"data": {"name": "annA"}, "transform": [{"filter": "datum.role == 'head'"}], "mark": {"type": "text", "align": "center", "font": "Lato", "fontSize": 12.5, "fontWeight": "bold", "color": "#111"}, "encoding": {"text": {"field": "text"}}},
       {"data": {"name": "annA"}, "transform": [{"filter": "datum.role == 'sub'"}], "mark": {"type": "text", "align": "center", "font": "Lato", "fontSize": 12, "fontStyle": "italic", "color": "#111"}, "encoding": {"text": {"field": "text"}}},
       {"data": {"name": "annA"}, "transform": [{"filter": "datum.role == 'cell'"}], "mark": {"type": "text", "align": "center", "font": "Lato", "fontSize": 12, "color": "#111"}, "encoding": {"text": {"field": "text"}}}
     ]},
    {"width": 348, "height": 72, "data": {"values": [{}]}, "mark": {"type": "text", "text": ""}},
    {"width": 348, "height": 30, "data": {"name": "riskA"},
     "title": {"text": "No. at Risk", "anchor": "start", "frame": "group", "dx": -106, "offset": 2, "font": "Lato", "fontSize": 13, "fontWeight": "bold"},
     "mark": {"type": "text", "font": "Lato", "fontSize": 12, "color": "#111"},
     "encoding": {
       "x": {"field": "month", "type": "quantitative", "scale": {"domain": [0, 18], "nice": false}, "axis": null},
       "y": {"field": "arm", "type": "nominal", "scale": {"type": "point", "padding": 0.5, "domain": ["Nivolumab", "Dacarbazine"]}, "axis": {"title": null, "domain": false, "ticks": false, "tickSize": 0, "labelAlign": "left", "labelPadding": 106, "labelFont": "Lato", "labelFontSize": 12, "labelColor": "#111"}},
       "text": {"field": "n", "type": "quantitative"}
     }}
  ]},
  {"spacing": 0, "bounds": "flush", "vconcat": [
    {"width": 677, "height": 53, "data": {"values": [{}]}, "mark": {"type": "text", "text": ""},
     "title": {"text": "B", "subtitle": ["A randomised non-comparative phase II trial of", "cixutumumab (IMC-A12) or ramucirumab (IMC-1121B)", "plus mitoxantrone and prednisone in men with metastatic", "docetaxel-pretreated castration-resistant prostate cancer"], "anchor": "start", "align": "center", "frame": "group", "dx": 271, "offset": 1.8, "font": "Liberation Sans", "fontSize": 36, "fontWeight": "bold", "subtitleFont": "DejaVu Serif", "subtitleFontSize": 13, "subtitleLineHeight": 17.9, "subtitlePadding": 38.5, "subtitleColor": "#333"}},
    {"width": 562, "height": 287, "view": {"stroke": "#000", "strokeWidth": 1.5},
     "title": {"text": "M. Hussain et al. / European Journal of Cancer 51 (2015) 1714–1724", "anchor": "start", "align": "center", "frame": "group", "dx": 250, "offset": 24.4, "font": "Liberation Serif", "fontStyle": "italic", "fontSize": 8, "fontWeight": "normal", "color": "#333"},
     "encoding": {
       "x": {"field": "month", "type": "quantitative", "scale": {"domain": [-1.27, 24.16], "nice": false, "zero": false}, "axis": {"values": [0,2,4,6,8,10,12,14,16,18,20,22,24], "title": "Composite Progression-free Survival (Months)", "labelFont": "Liberation Sans", "labelFontWeight": "bold", "labelFontSize": 13, "labelColor": "#000", "tickColor": "#000", "domainColor": "#000", "domainWidth": 1.5, "tickSize": 6, "labelPadding": 8, "titleFont": "Liberation Sans", "titleFontSize": 15, "titleFontWeight": "bold", "titleColor": "#000", "titlePadding": 19}},
       "y": {"field": "prob", "type": "quantitative", "scale": {"domain": [-0.012, 1.02], "nice": false, "zero": false}, "axis": {"values": [0,0.1,0.2,0.3,0.4,0.5,0.6,0.7,0.8,0.9,1.0], "format": ".1f", "title": "Probability", "labelFont": "Liberation Sans", "labelFontWeight": "bold", "labelFontSize": 13, "labelColor": "#000", "tickColor": "#000", "domainColor": "#000", "domainWidth": 1.5, "tickSize": 5, "labelPadding": 3, "titleFont": "Liberation Sans", "titleFontSize": 15, "titleFontWeight": "bold", "titleColor": "#000", "titlePadding": 18}}
     },
     "layer": [
       {"data": {"name": "refB"}, "mark": {"type": "rule", "strokeDash": [12, 6], "color": "#222", "strokeWidth": 1.3}, "encoding": {"x2": {"field": "month2"}, "y2": {"field": "prob2"}}},
       {"data": {"name": "kmB"}, "mark": {"type": "line", "interpolate": "step-after", "strokeWidth": 1.5},
        "encoding": {
          "color": {"field": "arm", "type": "nominal", "title": null, "scale": {"domain": ["Cixutumumab*", "Ramucirumab*"], "range": ["#000000", "#FF0000"]},
            "legend": {"orient": "none", "legendX": 324.9, "legendY": 149.5, "title": null, "symbolType": "M-1.5,0H1.5", "symbolSize": 400, "symbolStrokeWidth": 1.5, "labelFont": "Liberation Sans", "labelFontSize": 13, "labelFontWeight": "bold", "rowPadding": 0.5, "labelOffset": 14, "padding": 0, "encode": {"labels": {"update": {"fill": {"signal": "datum.label == 'Ramucirumab*' ? '#FF0000' : '#000000'"}}}}}},
          "strokeDash": {"field": "arm", "type": "nominal", "title": null, "scale": {"domain": ["Cixutumumab*", "Ramucirumab*"], "range": [[1, 0], [12, 7]]},
            "legend": {"orient": "none", "legendX": 324.9, "legendY": 149.5, "title": null, "symbolType": "M-1.5,0H1.5", "symbolSize": 400, "symbolStrokeWidth": 1.5, "labelFont": "Liberation Sans", "labelFontSize": 13, "labelFontWeight": "bold", "rowPadding": 0.5, "labelOffset": 14, "padding": 0, "encode": {"labels": {"update": {"fill": {"signal": "datum.label == 'Ramucirumab*' ? '#FF0000' : '#000000'"}}}}}}
        }},
       {"data": {"name": "censB"}, "mark": {"type": "tick", "orient": "vertical", "size": 10, "thickness": 1.2},
        "encoding": {"color": {"field": "arm", "type": "nominal", "title": null}}},
       {"data": {"name": "annB"}, "mark": {"type": "text", "align": "center", "font": "Liberation Sans", "fontSize": 14, "fontWeight": "bold", "color": "#000"}, "encoding": {"text": {"field": "text"}}}
     ]},
    {"width": 562, "height": 102, "data": {"values": [{}]}, "mark": {"type": "text", "text": ""}},
    {"width": 562, "height": 38, "data": {"name": "riskB"},
     "title": {"text": "At Risk", "anchor": "start", "frame": "group", "dx": -95, "offset": 2, "font": "Liberation Sans", "fontSize": 15, "fontWeight": "bold"},
     "mark": {"type": "text", "font": "Liberation Sans", "fontSize": 15, "fontWeight": "bold", "color": "#000"},
     "encoding": {
       "x": {"field": "month", "type": "quantitative", "scale": {"domain": [-2.62, 22.81], "nice": false, "zero": false}, "axis": null},
       "y": {"field": "arm", "type": "nominal", "scale": {"type": "point", "padding": 0.5, "domain": ["Cixutumumab*", "Ramucirumab*"]}, "axis": {"title": null, "domain": false, "ticks": false, "tickSize": 0, "labelAlign": "left", "labelPadding": 89.4, "labelFont": "Liberation Sans", "labelFontWeight": "bold", "labelFontSize": 15, "labelColor": "#000"}},
       "text": {"field": "n", "type": "quantitative"}
     }},
    {"width": 562, "height": 1, "data": {"values": [{}]}, "mark": {"type": "text", "text": ""},
     "title": {"text": ["Cixutumumab* = Cixutumumab + Mitoxantrone + Prednisone", "Ramucirumab* = Ramucirumab + Mitoxantrone + Prednisone"], "orient": "bottom", "anchor": "start", "align": "left", "frame": "group", "dx": -95, "offset": 18, "font": "Liberation Sans", "fontSize": 15, "fontWeight": "bold", "lineHeight": 20.3}}
  ]},
  {"spacing": 0, "bounds": "flush", "vconcat": [
    {"width": 418, "height": 97, "data": {"values": [{}]}, "mark": {"type": "text", "text": ""},
     "title": {"text": "C", "subtitle": ["Nivolumab versus Docetaxel in Advanced", "Nonsquamous Non–Small-Cell Lung Cancer"], "anchor": "start", "align": "center", "frame": "group", "dx": 209, "offset": 24.6, "font": "Liberation Sans", "fontSize": 36, "fontWeight": "bold", "subtitleFont": "DejaVu Serif", "subtitleFontSize": 17.5, "subtitleLineHeight": 23.9, "subtitlePadding": 39.3}},
    {"width": 418, "height": 198,
     "title": {"text": "Overall Survival", "anchor": "start", "frame": "group", "dx": -80.9, "offset": 8, "font": "Lato", "fontSize": 13, "fontWeight": "bold"},
     "encoding": {
       "x": {"field": "month", "type": "quantitative", "scale": {"domain": [0, 27], "nice": false, "zero": false}, "axis": {"values": [0,3,6,9,12,15,18,21,24,27], "title": "Months", "titleFontSize": 13, "titlePadding": 11}},
       "y": {"field": "pct", "type": "quantitative", "scale": {"domain": [0, 100], "nice": false}, "axis": {"values": [0,10,20,30,40,50,60,70,80,90,100], "title": "Overall Survival (% of patients)", "titlePadding": 15}}
     },
     "layer": [
       {"data": {"name": "refC"}, "mark": {"type": "rule", "strokeDash": [6, 3], "strokeWidth": 1}, "encoding": {"x2": {"field": "month2"}, "y2": {"field": "pct2"}, "color": {"field": "arm", "type": "nominal", "legend": null}}},
       {"data": {"name": "leadC"}, "mark": {"type": "rule", "color": "#111", "strokeWidth": 0.9}, "encoding": {"x2": {"field": "month2"}, "y2": {"field": "pct2"}}},
       {"data": {"name": "kmC"}, "mark": {"type": "line", "interpolate": "linear", "strokeWidth": 1.5},
        "encoding": {"color": {"field": "arm", "type": "nominal", "scale": {"domain": ["Nivolumab", "Docetaxel"], "range": ["#5B86D0", "#A9D05C"]}, "legend": null}}},
       {"data": {"name": "censC"}, "mark": {"type": "point", "filled": true, "size": 30, "opacity": 1},
        "encoding": {"color": {"field": "arm", "type": "nominal", "legend": null}, "shape": {"field": "arm", "type": "nominal", "scale": {"domain": ["Nivolumab", "Docetaxel"], "range": ["triangle-up", "circle"]}, "legend": null}}},
       {"data": {"name": "annC"}, "transform": [{"filter": "datum.role == 'left'"}], "mark": {"type": "text", "align": "left", "font": "Lato", "fontSize": 12.5, "color": "#111"}, "encoding": {"text": {"field": "text"}}},
       {"data": {"name": "annC"}, "transform": [{"filter": "datum.role == 'center'"}], "mark": {"type": "text", "align": "center", "font": "Lato", "fontSize": 12.5, "color": "#111"}, "encoding": {"text": {"field": "text"}}}
     ]},
    {"width": 418, "height": 72, "data": {"values": [{}]}, "mark": {"type": "text", "text": ""}},
    {"width": 418, "height": 30, "data": {"name": "riskC"},
     "title": {"text": "No. at Risk", "anchor": "start", "frame": "group", "dx": -94.2, "offset": 2, "font": "Lato", "fontSize": 13, "fontWeight": "bold"},
     "mark": {"type": "text", "font": "Lato", "fontSize": 12, "color": "#111"},
     "encoding": {
       "x": {"field": "month", "type": "quantitative", "scale": {"domain": [0, 27], "nice": false}, "axis": null},
       "y": {"field": "arm", "type": "nominal", "scale": {"type": "point", "padding": 0.5, "domain": ["Nivolumab", "Docetaxel"]}, "axis": {"title": null, "domain": false, "ticks": false, "tickSize": 0, "labelAlign": "left", "labelPadding": 93.9, "labelFont": "Lato", "labelFontSize": 12, "labelColor": "#111"}},
       "text": {"field": "n", "type": "quantitative"}
     }}
  ]}
 ]},
 {"spacing": 0,
  "resolve": {"scale": {"color": "independent", "shape": "independent", "strokeDash": "independent"}, "legend": {"color": "independent", "shape": "independent", "strokeDash": "independent"}},
  "hconcat": [
  {"spacing": 0, "bounds": "flush", "vconcat": [
    {"width": 531, "height": 57, "data": {"values": [{}]}, "mark": {"type": "text", "text": ""},
     "title": {"text": "D", "subtitle": ["Nivolumab versus Docetaxel in Advanced", "Nonsquamous Non–Small-Cell Lung Cancer"], "anchor": "start", "align": "center", "frame": "group", "dx": 115, "offset": 23.4, "font": "Liberation Sans", "fontSize": 36, "fontWeight": "bold", "subtitleFont": "DejaVu Serif", "subtitleFontSize": 17.5, "subtitleLineHeight": 24, "subtitlePadding": 44.1}},
    {"width": 418, "height": 198,
     "title": {"text": "Progression-free Survival", "anchor": "start", "frame": "group", "dx": -80.4, "offset": 6.8, "font": "Lato", "fontSize": 13, "fontWeight": "bold"},
     "encoding": {
       "x": {"field": "month", "type": "quantitative", "scale": {"domain": [0, 27], "nice": false, "zero": false}, "axis": {"values": [0,3,6,9,12,15,18,21,24,27], "title": "Months", "titleFontSize": 13, "titlePadding": 11}},
       "y": {"field": "pct", "type": "quantitative", "scale": {"domain": [0, 100], "nice": false}, "axis": {"values": [0,10,20,30,40,50,60,70,80,90,100], "title": ["Progression-free Survival", "(% of patients)"], "titleLineHeight": 16.3, "titlePadding": 15}}
     },
     "layer": [
       {"data": {"name": "refD"}, "mark": {"type": "rule", "strokeDash": [6, 3], "strokeWidth": 1}, "encoding": {"x2": {"field": "month2"}, "y2": {"field": "pct2"}, "color": {"field": "arm", "type": "nominal", "legend": null}}},
       {"data": {"name": "leadD"}, "mark": {"type": "rule", "color": "#111", "strokeWidth": 0.9}, "encoding": {"x2": {"field": "month2"}, "y2": {"field": "pct2"}}},
       {"data": {"name": "kmD"}, "mark": {"type": "line", "interpolate": "linear", "strokeWidth": 1.5},
        "encoding": {"color": {"field": "arm", "type": "nominal", "scale": {"domain": ["Nivolumab", "Docetaxel"], "range": ["#5B86D0", "#A9D05C"]}, "legend": null}}},
       {"data": {"name": "censD"}, "mark": {"type": "point", "filled": true, "size": 30, "opacity": 1},
        "encoding": {"color": {"field": "arm", "type": "nominal", "legend": null}, "shape": {"field": "arm", "type": "nominal", "scale": {"domain": ["Nivolumab", "Docetaxel"], "range": ["triangle-up", "circle"]}, "legend": null}}},
       {"data": {"name": "annD"}, "transform": [{"filter": "datum.role == 'left'"}], "mark": {"type": "text", "align": "left", "font": "Lato", "fontSize": 12.5, "color": "#111"}, "encoding": {"text": {"field": "text"}}},
       {"data": {"name": "annD"}, "transform": [{"filter": "datum.role == 'center'"}], "mark": {"type": "text", "align": "center", "font": "Lato", "fontSize": 12.5, "color": "#111"}, "encoding": {"text": {"field": "text"}}}
     ]},
    {"width": 418, "height": 71, "data": {"values": [{}]}, "mark": {"type": "text", "text": ""}},
    {"width": 418, "height": 32, "data": {"name": "riskD"},
     "title": {"text": "No. at Risk", "anchor": "start", "frame": "group", "dx": -93.8, "offset": 1, "font": "Lato", "fontSize": 13, "fontWeight": "bold"},
     "mark": {"type": "text", "font": "Lato", "fontSize": 12, "color": "#111"},
     "encoding": {
       "x": {"field": "month", "type": "quantitative", "scale": {"domain": [0, 27], "nice": false}, "axis": null},
       "y": {"field": "arm", "type": "nominal", "scale": {"type": "point", "padding": 0.5, "domain": ["Nivolumab", "Docetaxel"]}, "axis": {"title": null, "domain": false, "ticks": false, "tickSize": 0, "labelAlign": "left", "labelPadding": 93.8, "labelFont": "Lato", "labelFontSize": 12, "labelColor": "#111"}},
       "text": {"field": "n", "type": "quantitative"}
     }}
  ]},
  {"spacing": 0, "bounds": "flush", "vconcat": [
    {"width": 415, "height": 56, "data": {"values": [{}]}, "mark": {"type": "text", "text": ""},
     "title": {"text": "E", "subtitle": ["Sipuleucel-T Immunotherapy for Castration-Resistant", "Prostate Cancer"], "anchor": "start", "align": "center", "frame": "group", "dx": 138, "offset": 19.6, "font": "Liberation Sans", "fontSize": 36, "fontWeight": "bold", "subtitleFont": "Liberation Serif", "subtitleFontSize": 18, "subtitleLineHeight": 27.7, "subtitlePadding": 46.1, "subtitleColor": "#333"}},
    {"width": 348, "height": 297,
     "title": {"text": "Primary Efficacy", "anchor": "start", "frame": "group", "dx": -100, "offset": 6.8, "font": "Lato", "fontSize": 13, "fontWeight": "bold"},
     "encoding": {
       "x": {"field": "month", "type": "quantitative", "scale": {"domain": [0, 72], "nice": false, "zero": false}, "axis": {"values": [0,12,24,36,48,60,72], "title": "Months since Randomization", "titleFontSize": 13, "titlePadding": 11}},
       "y": {"field": "pct", "type": "quantitative", "scale": {"domain": [0, 100], "nice": false}, "axis": {"values": [0,20,40,60,80,100], "title": "Probability of Survival (%)", "titlePadding": 15}}
     },
     "layer": [
       {"data": {"name": "kmE"}, "mark": {"type": "line", "interpolate": "linear", "strokeWidth": 3},
        "encoding": {"color": {"field": "arm", "type": "nominal", "scale": {"domain": ["Sipuleucel-T", "Placebo"], "range": ["#1B7CC0", "#C5452A"]}, "legend": null}}},
       {"data": {"name": "annE"}, "mark": {"type": "text", "align": "left", "font": "Lato", "fontSize": 13, "color": "#111"}, "encoding": {"text": {"field": "text"}}}
     ]},
    {"width": 348, "height": 72, "data": {"values": [{}]}, "mark": {"type": "text", "text": ""}},
    {"width": 348, "height": 30, "data": {"name": "riskE"},
     "title": {"text": "No. at Risk", "anchor": "start", "frame": "group", "dx": -106.7, "offset": 2, "font": "Lato", "fontSize": 13, "fontWeight": "bold"},
     "mark": {"type": "text", "font": "Lato", "fontSize": 12, "color": "#111"},
     "encoding": {
       "x": {"field": "month", "type": "quantitative", "scale": {"domain": [0, 72], "nice": false}, "axis": null},
       "y": {"field": "arm", "type": "nominal", "scale": {"type": "point", "padding": 0.5, "domain": ["Sipuleucel-T", "Placebo"]}, "axis": {"title": null, "domain": false, "ticks": false, "tickSize": 0, "labelAlign": "left", "labelPadding": 106.7, "labelFont": "Lato", "labelFontSize": 12, "labelColor": "#111"}},
       "text": {"field": "n", "type": "quantitative"}
     }}
  ]},
  {"spacing": 0, "bounds": "flush", "vconcat": [
    {"width": 554, "height": 36, "data": {"values": [{}]}, "mark": {"type": "text", "text": ""},
     "title": {"text": "F", "subtitle": ["A randomised non-comparative phase II trial of", "cixutumumab (IMC-A12) or ramucirumab (IMC-1121B)", "plus mitoxantrone and prednisone in men with metastatic", "docetaxel-pretreated castration-resistant prostate cancer"], "anchor": "start", "align": "center", "frame": "group", "dx": 292, "offset": 7.2, "font": "Liberation Sans", "fontSize": 36, "fontWeight": "bold", "subtitleFont": "DejaVu Serif", "subtitleFontSize": 13, "subtitleLineHeight": 18, "subtitlePadding": 36.5, "subtitleColor": "#333"}},
    {"width": 554, "height": 277, "view": {"stroke": "#000", "strokeWidth": 1.5},
     "encoding": {
       "x": {"field": "month", "type": "quantitative", "scale": {"domain": [-1.26, 38], "nice": false, "zero": false}, "axis": {"values": [0,2,4,6,8,10,12,14,16,18,20,22,24,26,28,30,32,34,36,38], "title": "Overall Survival (Months)", "labelFont": "Liberation Sans", "labelFontWeight": "bold", "labelFontSize": 13, "labelColor": "#000", "tickColor": "#000", "domainColor": "#000", "domainWidth": 1.5, "tickSize": 6, "labelPadding": 10, "titleFont": "Liberation Sans", "titleFontSize": 15, "titleFontWeight": "bold", "titleColor": "#000", "titlePadding": 17}},
       "y": {"field": "prob", "type": "quantitative", "scale": {"domain": [-0.006, 1.012], "nice": false, "zero": false}, "axis": {"values": [0,0.1,0.2,0.3,0.4,0.5,0.6,0.7,0.8,0.9,1.0], "format": ".1f", "title": "Probability", "labelFont": "Liberation Sans", "labelFontWeight": "bold", "labelFontSize": 13, "labelColor": "#000", "tickColor": "#000", "domainColor": "#000", "domainWidth": 1.5, "tickSize": 5, "labelPadding": 3, "titleFont": "Liberation Sans", "titleFontSize": 15, "titleFontWeight": "bold", "titleColor": "#000", "titlePadding": 16}}
     },
     "layer": [
       {"data": {"name": "refF"}, "mark": {"type": "rule", "strokeDash": [12, 6], "color": "#222", "strokeWidth": 1.3}, "encoding": {"x2": {"field": "month2"}, "y2": {"field": "prob2"}}},
       {"data": {"name": "kmF"}, "mark": {"type": "line", "interpolate": "step-after", "strokeWidth": 1.5},
        "encoding": {
          "color": {"field": "arm", "type": "nominal", "title": null, "scale": {"domain": ["Cixutumumab*", "Ramucirumab*"], "range": ["#000000", "#FF0000"]},
            "legend": {"orient": "none", "legendX": 320.2, "legendY": 127.6, "title": null, "symbolType": "M-1.5,0H1.5", "symbolSize": 400, "symbolStrokeWidth": 1.5, "labelFont": "Liberation Sans", "labelFontSize": 13, "labelFontWeight": "bold", "rowPadding": 1.4, "labelOffset": 13.4, "padding": 0, "encode": {"labels": {"update": {"fill": {"signal": "datum.label == 'Ramucirumab*' ? '#FF0000' : '#000000'"}}}}}},
          "strokeDash": {"field": "arm", "type": "nominal", "title": null, "scale": {"domain": ["Cixutumumab*", "Ramucirumab*"], "range": [[1, 0], [12, 7]]},
            "legend": {"orient": "none", "legendX": 320.2, "legendY": 127.6, "title": null, "symbolType": "M-1.5,0H1.5", "symbolSize": 400, "symbolStrokeWidth": 1.5, "labelFont": "Liberation Sans", "labelFontSize": 13, "labelFontWeight": "bold", "rowPadding": 1.4, "labelOffset": 13.4, "padding": 0, "encode": {"labels": {"update": {"fill": {"signal": "datum.label == 'Ramucirumab*' ? '#FF0000' : '#000000'"}}}}}}
        }},
       {"data": {"name": "censF"}, "mark": {"type": "tick", "orient": "vertical", "size": 10, "thickness": 1.2},
        "encoding": {"color": {"field": "arm", "type": "nominal", "title": null}}},
       {"data": {"name": "annF"}, "mark": {"type": "text", "align": "center", "font": "Liberation Sans", "fontSize": 13, "fontWeight": "bold", "color": "#000"}, "encoding": {"text": {"field": "text"}}}
     ]},
    {"width": 554, "height": 99, "data": {"values": [{}]}, "mark": {"type": "text", "text": ""}},
    {"width": 554, "height": 46, "data": {"name": "riskF"},
     "title": {"text": "At Risk", "anchor": "start", "frame": "group", "dx": -116.1, "offset": 3, "font": "Liberation Sans", "fontSize": 13, "fontWeight": "bold"},
     "mark": {"type": "text", "font": "Liberation Sans", "fontSize": 13, "fontWeight": "bold", "color": "#000"},
     "encoding": {
       "x": {"field": "month", "type": "quantitative", "scale": {"domain": [-1.26, 38], "nice": false, "zero": false}, "axis": null},
       "y": {"field": "arm", "type": "nominal", "scale": {"type": "point", "padding": 0.5, "domain": ["Cixutumumab*", "Ramucircumab*"]}, "axis": {"title": null, "domain": false, "ticks": false, "tickSize": 0, "labelAlign": "left", "labelPadding": 116.1, "labelFont": "Liberation Sans", "labelFontWeight": "bold", "labelFontSize": 13, "labelColor": "#000"}},
       "text": {"field": "n", "type": "quantitative"}
     }},
    {"width": 554, "height": 1, "data": {"values": [{}]}, "mark": {"type": "text", "text": ""},
     "title": {"text": ["Cixutumumab* = Cixutumumab + Mitoxantrone + Prednisone", "Ramucircumab* = Ramucirumab + Mitoxantrone + Prednisone"], "orient": "bottom", "anchor": "start", "align": "left", "frame": "group", "dx": -116.1, "offset": 22.7, "font": "Liberation Sans", "fontSize": 13, "fontWeight": "bold", "lineHeight": 17.9}}
  ]}
 ]}
]
}
